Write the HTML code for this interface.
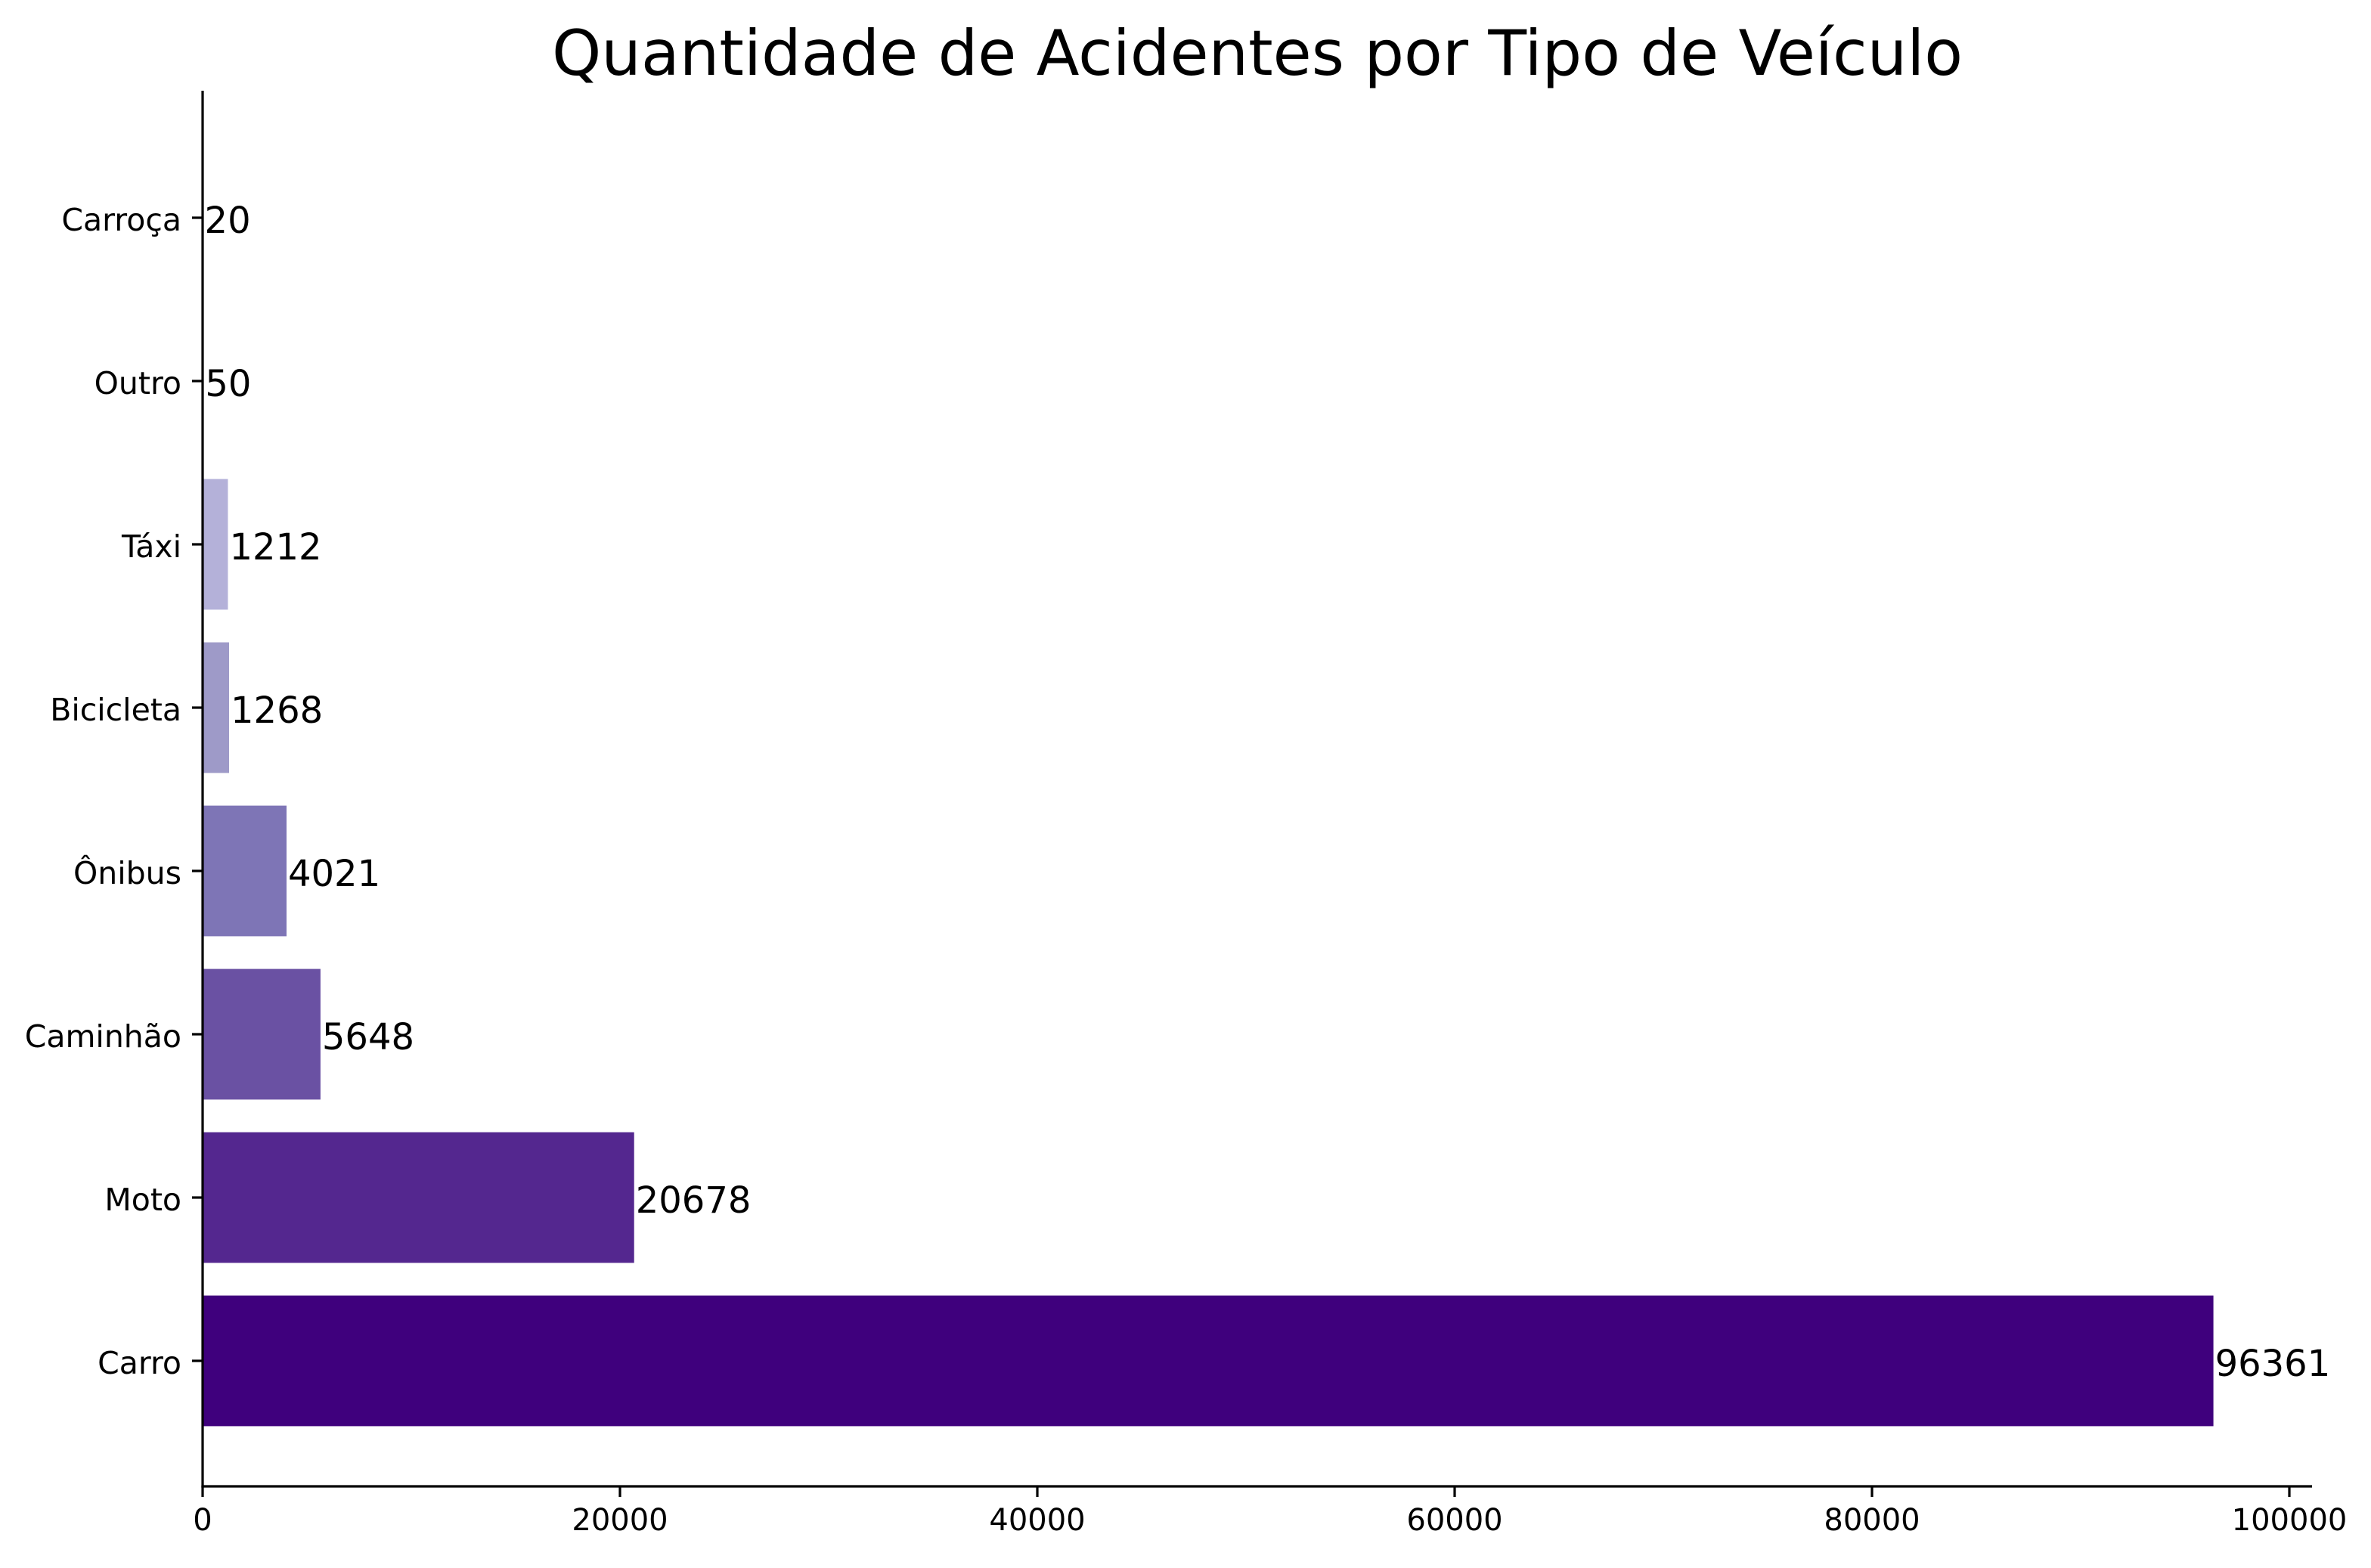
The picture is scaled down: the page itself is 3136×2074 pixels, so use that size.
<!DOCTYPE html>
<html><head><meta charset="utf-8"><style>
html,body{margin:0;padding:0;background:#fff;}
svg text{font-family:"DejaVu Sans","Liberation Sans",sans-serif;}
</style></head><body>
<svg id="chart" width="3136" height="2069" viewBox="0 0 3136 2069" xmlns="http://www.w3.org/2000/svg">
<rect width="3136" height="2069" fill="#fff"/>
<text x="1663" y="99" font-size="83" text-anchor="middle" fill="#000">Quantidade de Acidentes por Tipo de Veículo</text>
<g id="bars"></g>
<g id="axes"></g>
</svg>
<script>
const categories = ["Carro","Moto","Caminhão","Ônibus","Bicicleta","Táxi","Outro","Carroça"];
const values = [96361,20678,5648,4021,1268,1212,50,20];
const colors = ["#3f007d","#54278f","#6a51a3","#7e75b6","#9e9ac8","#b4b1d9","#dadaeb","#efedf5"];
const xTicks = [0,20000,40000,60000,80000,100000];

const ns="http://www.w3.org/2000/svg";
const X0=268, X1=3028, XMAX=100000, AXR=3058, AXT=120, AXB=1966;
const yCenter0=1800, step=216, barH=172.8;
function xs(v){return X0+(v/XMAX)*(X1-X0);}
function yc(i){return yCenter0-i*step;}
function mk(tag,attrs,parent){const e=document.createElementNS(ns,tag);for(const k in attrs)e.setAttribute(k,attrs[k]);parent.appendChild(e);return e;}
const bars=document.getElementById('bars'), axes=document.getElementById('axes');
categories.forEach((c,i)=>{
  const r=mk('rect',{x:X0,y:yc(i)-barH/2,width:xs(values[i])-X0,height:barH,fill:colors[i]},bars);
  
  
  const t=mk('text',{x:xs(values[i])+2,y:yc(i)+20,'font-size':'48',fill:'#000'},bars);
  t.textContent=values[i];
  
  
  mk('line',{x1:X0-14,x2:X0,y1:yc(i),y2:yc(i),stroke:'#000','stroke-width':3.2},axes);
  const l=mk('text',{x:X0-28,y:yc(i)+17,'font-size':'41','text-anchor':'end',fill:'#000'},axes);
  l.textContent=c;
  
  
});
xTicks.forEach(v=>{
  mk('line',{x1:xs(v),x2:xs(v),y1:AXB,y2:AXB+14,stroke:'#000','stroke-width':3.2},axes);
  const t=mk('text',{x:xs(v),y:AXB+58,'font-size':'40','text-anchor':'middle',fill:'#000'},axes);
  t.textContent=v;
  
  
});
const ls=mk('line',{x1:X0,x2:X0,y1:AXT,y2:AXB+1.6,stroke:'#000','stroke-width':3.2},axes);


const bs=mk('line',{x1:X0-1.6,x2:AXR,y1:AXB,y2:AXB,stroke:'#000','stroke-width':3.2},axes);


</script>
</body></html>
